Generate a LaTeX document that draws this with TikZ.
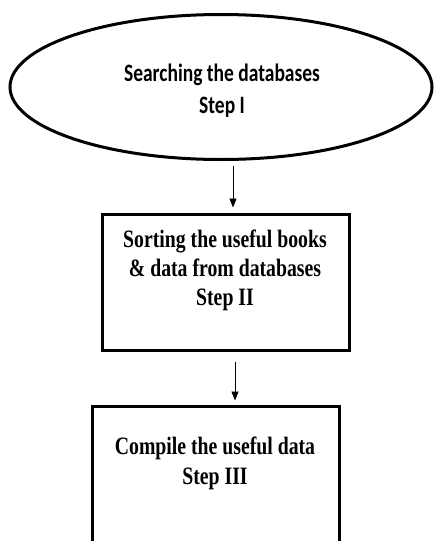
\documentclass[tikz,border=0pt]{standalone}
\usepackage{fontspec}
\usetikzlibrary{shapes.geometric,arrows.meta,calc}
\newfontfamily\ellfont[FakeStretch=0.78]{Carlito}
\newfontfamily\boxfont[FakeStretch=0.79]{Liberation Serif}
\begin{document}
\begin{tikzpicture}[x=1pt,y=-1pt,
  shapeline/.style={draw=black,line width=3pt},
  arr/.style={draw=black,line width=0.9pt,-{Triangle[length=9pt,width=7pt]}},
  ltext/.style={align=center,inner sep=0pt}]
\useasboundingbox (0,0) rectangle (434,541);
\clip (0,0) rectangle (434,541);
\node[shapeline,ellipse,minimum width=422pt,minimum height=145pt,inner sep=0pt] (e) at (221,87) {};
\node[ltext,font=\ellfont\bfseries\fontsize{25}{32}\selectfont] (t1) at (222,91) {Searching the databases\\Step I};
\node[shapeline,rectangle,minimum width=247pt,minimum height=136pt,inner sep=0pt] (b2) at (225.5,282) {};
\node[ltext,font=\boxfont\bfseries\fontsize{25}{29}\selectfont] (t2) at (225,270) {Sorting the useful books\\\& data from databases\\Step II};
\node[shapeline,rectangle,minimum width=247pt,minimum height=170pt,inner sep=0pt] (b3) at (215.5,491) {};
\node[ltext,font=\boxfont\bfseries\fontsize{25}{30}\selectfont] (t3) at (215,463) {Compile the useful data\\Step III};
\draw[arr] ([xshift=12pt,yshift=-5pt]e.south) -- ([xshift=7.5pt,yshift=5pt]b2.north);
\draw[arr] ([xshift=9.5pt,yshift=-10pt]b2.south) -- ([xshift=19.5pt,yshift=4pt]b3.north);
\end{tikzpicture}
\end{document}
